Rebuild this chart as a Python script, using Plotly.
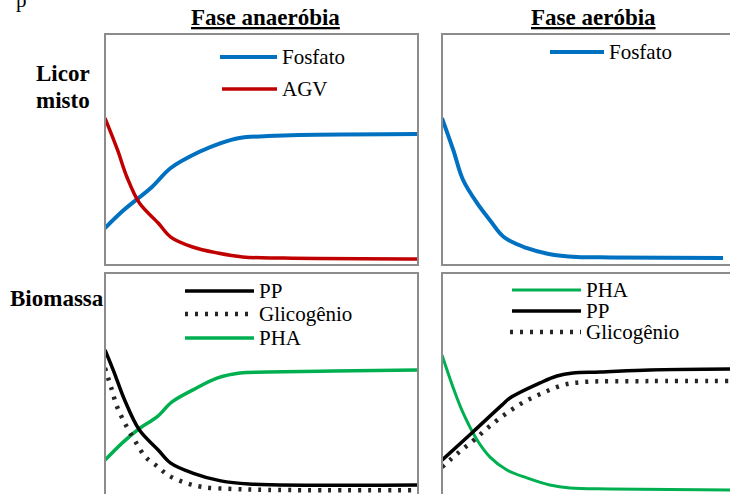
import plotly.graph_objects as go

# ---------------- data (normalised concentration vs. time) ----------------
# Top-left: mixed liquor, anaerobic phase
tl_fosfato_t = [0, 6, 15, 21, 30, 37, 43, 52, 62, 100]
tl_fosfato_v = [0.16, 0.238, 0.338, 0.42, 0.489, 0.528, 0.55, 0.558, 0.563, 0.567]
tl_agv_t = [0, 4, 7, 11, 17, 21, 28, 36, 44, 57, 100]
tl_agv_v = [0.636, 0.498, 0.381, 0.268, 0.182, 0.121, 0.078, 0.052, 0.035, 0.03, 0.026]

# Top-right: mixed liquor, aerobic phase
tr_fosfato_t = [0, 4, 7.5, 12.5, 17, 22, 30, 38, 48, 60, 100]
tr_fosfato_v = [0.636, 0.498, 0.368, 0.268, 0.195, 0.121, 0.074, 0.048, 0.035, 0.033, 0.03]

# Bottom-left: biomass, anaerobic phase
bl_pp_t = [0, 3, 6, 11, 17, 21, 28, 37, 46, 100]
bl_pp_v = [0.667, 0.567, 0.459, 0.32, 0.234, 0.177, 0.134, 0.1, 0.087, 0.082]
bl_glic_t = [0, 2, 4, 7, 10, 13, 17, 20, 25, 31, 41, 52, 100]
bl_glic_v = [0.589, 0.502, 0.416, 0.333, 0.264, 0.203, 0.16, 0.126, 0.095, 0.074, 0.065, 0.061, 0.06]
bl_pha_t = [0, 5.8, 11.2, 16.6, 21.4, 28.1, 35.8, 43.1, 51.8, 72.8, 100]
bl_pha_v = [0.19, 0.268, 0.329, 0.377, 0.442, 0.494, 0.545, 0.567, 0.571, 0.576, 0.58]

# Bottom-right: biomass, aerobic phase
br_pha_t = [0, 3.9, 7.5, 12.5, 17.1, 23.1, 30.2, 38.4, 45.6, 59.8, 102.5]
br_pha_v = [0.645, 0.506, 0.394, 0.277, 0.203, 0.147, 0.113, 0.082, 0.069, 0.065, 0.061]
br_pp_t = [0, 11, 21.4, 24.2, 34.9, 40.9, 46.6, 56.2, 74, 102.5]
br_pp_v = [0.19, 0.312, 0.429, 0.459, 0.524, 0.554, 0.567, 0.571, 0.58, 0.584]
br_glic_t = [0, 5.7, 11.4, 17.1, 23.1, 29.2, 35.9, 43.1, 50.2, 74, 102.5]
br_glic_v = [0.16, 0.221, 0.277, 0.338, 0.394, 0.442, 0.481, 0.515, 0.528, 0.532, 0.532]

col_titles = ["Fase anaeróbia", "Fase aeróbia"]
row_titles = [["Licor", "misto"], ["Biomassa"]]

# ---------------- styling ----------------
W, H = 730, 494
BLUE, RED, GREEN, BLACK, DOTC = "#0070C0", "#C00000", "#00B050", "#000000", "#262626"
BORDER = "#8C8C8C"
FONT = "Liberation Serif"
DOT = "3px,7px"


def px(x):
    return x / W


def py(y):
    return 1 - y / H


fig = go.Figure()


def add(t, v, color, width, xa, ya, dash=None):
    fig.add_trace(go.Scatter(
        x=t, y=v, mode="lines", xaxis=xa, yaxis=ya, showlegend=False,
        hoverinfo="skip",
        line=dict(color=color, width=width, shape="spline", smoothing=1.0, dash=dash)))


add(tl_fosfato_t, tl_fosfato_v, BLUE, 4, "x", "y")
add(tl_agv_t, tl_agv_v, RED, 3.5, "x", "y")
add(tr_fosfato_t, tr_fosfato_v, BLUE, 4, "x2", "y2")
add(bl_pha_t, bl_pha_v, GREEN, 3.5, "x3", "y3")
add(bl_glic_t, bl_glic_v, DOTC, 4.5, "x3", "y3", DOT)
add(bl_pp_t, bl_pp_v, BLACK, 3.5, "x3", "y3")
add(br_pha_t, br_pha_v, GREEN, 3, "x4", "y4")
add(br_glic_t, br_glic_v, DOTC, 4.5, "x4", "y4", DOT)
add(br_pp_t, br_pp_v, BLACK, 3.5, "x4", "y4")

L0, L1 = 105, 418     # left panels x
R0 = 442              # right panels left edge
T0, T1 = 34, 265      # top panels y
B0 = 273              # bottom panels top
unit = T1 - T0        # px per unit value

ax = dict(visible=False, showgrid=False, zeroline=False, fixedrange=True)
right_max = 100 * (W - R0) / (723 - R0)
bottom_min = ((B0 + unit) - H) / unit
fig.update_layout(
    xaxis=dict(ax, domain=[px(L0), px(L1)], range=[0, 100]),
    yaxis=dict(ax, domain=[py(T1), py(T0)], range=[0, 1]),
    xaxis2=dict(ax, domain=[px(R0), 1], range=[0, right_max]),
    yaxis2=dict(ax, domain=[py(T1), py(T0)], range=[0, 1], anchor="x2"),
    xaxis3=dict(ax, domain=[px(L0), px(L1)], range=[0, 100], anchor="y3"),
    yaxis3=dict(ax, domain=[0, py(B0)], range=[bottom_min, 1], anchor="x3"),
    xaxis4=dict(ax, domain=[px(R0), 1], range=[0, right_max], anchor="y4"),
    yaxis4=dict(ax, domain=[0, py(B0)], range=[bottom_min, 1], anchor="x4"),
)

shapes = []
# panel borders
for (x0, y0, x1, y1) in [(L0, T0, L1, T1), (R0, T0, W + 30, T1),
                         (L0, B0, L1, H + 30), (R0, B0, W + 30, H + 30)]:
    shapes.append(dict(type="rect", xref="paper", yref="paper",
                       x0=px(x0), x1=px(x1), y0=py(y1), y1=py(y0),
                       line=dict(color=BORDER, width=2), layer="above"))

annotations = []


def legend_item(x0, x1, y, color, width, text, dash="solid"):
    shapes.append(dict(type="line", xref="paper", yref="paper",
                       x0=px(x0), x1=px(x1), y0=py(y), y1=py(y),
                       line=dict(color=color, width=width, dash=dash)))
    annotations.append(dict(text=text, xref="paper", yref="paper",
                            x=px(x1 + 3), y=py(y), xanchor="left", yanchor="middle",
                            showarrow=False, font=dict(family=FONT, size=21, color="black")))


legend_item(220, 277, 57, BLUE, 4, "Fosfato")
legend_item(222, 277, 89, RED, 3.5, "AGV")
legend_item(550, 604, 52, BLUE, 4, "Fosfato")
legend_item(185, 254, 291, BLACK, 3.5, "PP")
legend_item(185, 254, 314, DOTC, 4.5, "Glicogênio", DOT)
legend_item(185, 254, 338, GREEN, 3.5, "PHA")
legend_item(512, 581, 290, GREEN, 3, "PHA")
legend_item(512, 581, 311, BLACK, 3.5, "PP")
legend_item(510, 581, 332, DOTC, 4.5, "Glicogênio", DOT)

# column titles
for text, cx in zip(col_titles, [265, 593]):
    annotations.append(dict(text="<b>" + text + "</b>", xref="paper", yref="paper",
                            x=px(cx), y=py(17), xanchor="center", yanchor="middle",
                            showarrow=False,
                            font=dict(family=FONT, size=23, color="black", lineposition="under")))

# row titles
for text, cy in zip(row_titles[0], [74, 100]):
    annotations.append(dict(text="<b>" + text + "</b>", xref="paper", yref="paper",
                            x=px(63), y=py(cy), xanchor="center", yanchor="middle",
                            showarrow=False, font=dict(family=FONT, size=23, color="black")))
annotations.append(dict(text="<b>" + row_titles[1][0] + "</b>", xref="paper", yref="paper",
                        x=px(57), y=py(298), xanchor="center", yanchor="middle",
                        showarrow=False, font=dict(family=FONT, size=23, color="black")))
# cropped fragment of text above the figure
annotations.append(dict(text="p", xref="paper", yref="paper", x=px(21), y=py(0),
                        xanchor="center", yanchor="middle", showarrow=False,
                        font=dict(family=FONT, size=21, color="black")))

fig.update_layout(width=W, height=H, margin=dict(l=0, r=0, t=0, b=0),
                  paper_bgcolor="white", plot_bgcolor="white",
                  shapes=shapes, annotations=annotations, showlegend=False)
fig.write_html("out.html")
